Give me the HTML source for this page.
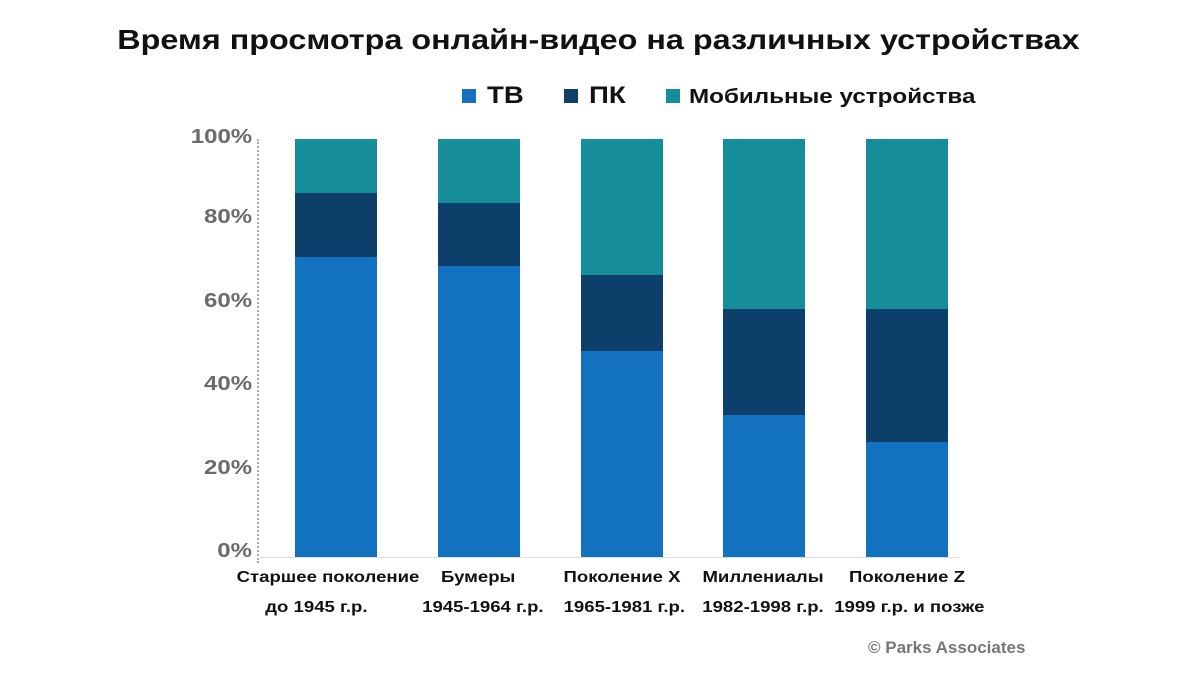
<!DOCTYPE html>
<html><head><meta charset="utf-8"><style>
body{margin:0;width:1200px;height:675px;background:#fff;position:relative;overflow:hidden;font-family:"Liberation Sans","DejaVu Sans",sans-serif}
.a{position:absolute}
.t{font-weight:bold;color:#111;white-space:nowrap}
.y{position:absolute;right:948px;font-weight:bold;font-size:20px;color:#6b6b6b;text-align:right;transform:scaleX(1.2);transform-origin:right center}
.bar{position:absolute;width:82px}
.xl{position:absolute;width:180px;text-align:center;font-weight:bold;font-size:16px;color:#111;line-height:30px;transform:scaleX(1.16);white-space:nowrap}
</style></head><body>
<div class="a t" style="left:0;width:1200px;text-align:center;top:24px;font-size:28px;transform:scaleX(1.155);transform-origin:610px center">Время просмотра онлайн-видео на различных устройствах</div>
<div class="a" style="left:462px;top:89px;width:14px;height:14px;background:#1272c0"></div>
<div class="a t" style="left:487px;top:82px;font-size:24px;transform:scaleX(1.15);transform-origin:left center">ТВ</div>
<div class="a" style="left:564px;top:89px;width:14px;height:14px;background:#0d3f6b"></div>
<div class="a t" style="left:589px;top:82px;font-size:24px;transform:scaleX(1.15);transform-origin:left center">ПК</div>
<div class="a" style="left:666px;top:89px;width:14px;height:14px;background:#158d9b"></div>
<div class="a t" style="left:689px;top:86px;font-size:20px;transform:scaleX(1.21);transform-origin:left center">Мобильные устройства</div>
<div class="y" style="top:126px">100%</div>
<div class="y" style="top:206px">80%</div>
<div class="y" style="top:290px">60%</div>
<div class="y" style="top:373px">40%</div>
<div class="y" style="top:457px">20%</div>
<div class="y" style="top:540px">0%</div>
<div class="a" style="left:257px;top:139px;height:424px;border-left:2px dotted #aaa"></div>
<div class="a" style="left:259px;top:557px;width:700px;height:1px;background:#ddd"></div>
<div class="bar" style="left:295px;top:139px;height:54px;background:#158d9b"></div>
<div class="bar" style="left:295px;top:193px;height:64px;background:#0d3f6b"></div>
<div class="bar" style="left:295px;top:257px;height:300px;background:#1272c0"></div>
<div class="bar" style="left:438px;top:139px;height:64px;background:#158d9b"></div>
<div class="bar" style="left:438px;top:203px;height:63px;background:#0d3f6b"></div>
<div class="bar" style="left:438px;top:266px;height:291px;background:#1272c0"></div>
<div class="bar" style="left:581px;top:139px;height:136px;background:#158d9b"></div>
<div class="bar" style="left:581px;top:275px;height:76px;background:#0d3f6b"></div>
<div class="bar" style="left:581px;top:351px;height:206px;background:#1272c0"></div>
<div class="bar" style="left:723px;top:139px;height:170px;background:#158d9b"></div>
<div class="bar" style="left:723px;top:309px;height:106px;background:#0d3f6b"></div>
<div class="bar" style="left:723px;top:415px;height:142px;background:#1272c0"></div>
<div class="bar" style="left:866px;top:139px;height:170px;background:#158d9b"></div>
<div class="bar" style="left:866px;top:309px;height:133px;background:#0d3f6b"></div>
<div class="bar" style="left:866px;top:442px;height:115px;background:#1272c0"></div>
<div class="xl" style="left:238px;top:563px">Старшее поколение<br><span style="position:relative;left:-10px">до 1945 г.р.</span></div>
<div class="xl" style="left:394px;top:563px"><span style="position:relative;left:-5px">Бумеры</span><br><span style="position:relative;left:-1px">1945-1964 г.р.</span></div>
<div class="xl" style="left:532px;top:563px">Поколение X<br><span style="position:relative;left:2px">1965-1981 г.р.</span></div>
<div class="xl" style="left:673px;top:563px">Миллениалы<br>1982-1998 г.р.</div>
<div class="xl" style="left:817px;top:563px">Поколение Z<br><span style="position:relative;left:2px">1999 г.р. и позже</span></div>
<div class="a" style="left:868px;top:638px;font-size:17px;color:#777;font-weight:bold">© Parks Associates</div>
</body></html>
